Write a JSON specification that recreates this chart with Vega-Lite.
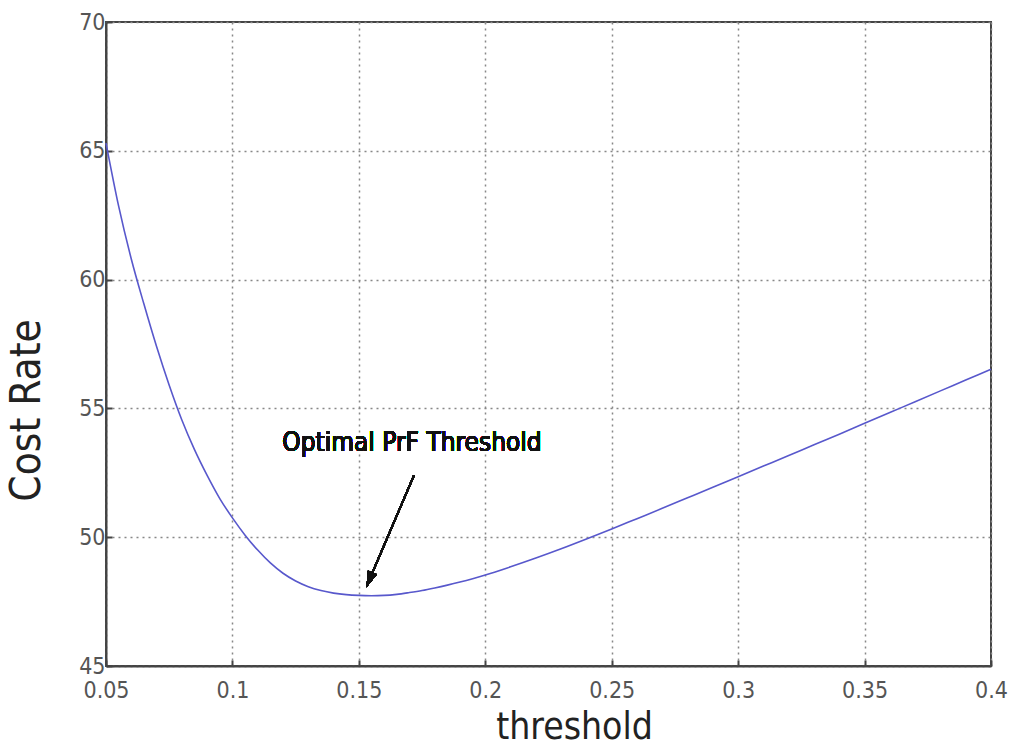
{
  "$schema": "https://vega.github.io/schema/vega-lite/v6.json",
  "width": 885,
  "height": 644,
  "autosize": "none",
  "padding": {"left": 106, "top": 22, "right": 19, "bottom": 89},
  "background": "white",
  "config": {
    "view": {"stroke": "#444", "strokeWidth": 2},
    "font": "DejaVu Sans Condensed, sans-serif",
    "axis": {
      "domainColor": "#444",
      "domainWidth": 2,
      "gridColor": "#888",
      "gridDash": [2, 4],
      "gridWidth": 1.5,
      "tickColor": "#444",
      "tickWidth": 2,
      "labelFont": "DejaVu Sans Condensed, sans-serif",
      "titleFont": "DejaVu Sans Condensed, sans-serif",
      "labelColor": "#555",
      "titleColor": "#222",
      "titleFontWeight": "normal"
    }
  },
  "data": {
    "values": [
      {"threshold": 0.05, "cost": 65.3},
      {"threshold": 0.055, "cost": 62.85},
      {"threshold": 0.06, "cost": 60.8},
      {"threshold": 0.065, "cost": 59.05},
      {"threshold": 0.07, "cost": 57.4},
      {"threshold": 0.075, "cost": 55.9},
      {"threshold": 0.08, "cost": 54.55},
      {"threshold": 0.085, "cost": 53.4},
      {"threshold": 0.09, "cost": 52.4},
      {"threshold": 0.095, "cost": 51.5},
      {"threshold": 0.1, "cost": 50.75},
      {"threshold": 0.105, "cost": 50.08},
      {"threshold": 0.11, "cost": 49.5},
      {"threshold": 0.115, "cost": 49.0},
      {"threshold": 0.12, "cost": 48.6},
      {"threshold": 0.125, "cost": 48.3},
      {"threshold": 0.13, "cost": 48.08},
      {"threshold": 0.135, "cost": 47.93},
      {"threshold": 0.14, "cost": 47.83},
      {"threshold": 0.145, "cost": 47.77},
      {"threshold": 0.15, "cost": 47.74},
      {"threshold": 0.155, "cost": 47.73},
      {"threshold": 0.16, "cost": 47.74},
      {"threshold": 0.165, "cost": 47.78},
      {"threshold": 0.17, "cost": 47.85},
      {"threshold": 0.175, "cost": 47.93},
      {"threshold": 0.18, "cost": 48.03},
      {"threshold": 0.185, "cost": 48.14},
      {"threshold": 0.19, "cost": 48.26},
      {"threshold": 0.195, "cost": 48.39},
      {"threshold": 0.2, "cost": 48.53},
      {"threshold": 0.21, "cost": 48.85},
      {"threshold": 0.22, "cost": 49.19},
      {"threshold": 0.23, "cost": 49.55},
      {"threshold": 0.24, "cost": 49.93},
      {"threshold": 0.25, "cost": 50.32},
      {"threshold": 0.26, "cost": 50.72},
      {"threshold": 0.27, "cost": 51.12},
      {"threshold": 0.28, "cost": 51.53},
      {"threshold": 0.29, "cost": 51.94},
      {"threshold": 0.3, "cost": 52.35},
      {"threshold": 0.31, "cost": 52.76},
      {"threshold": 0.32, "cost": 53.17},
      {"threshold": 0.33, "cost": 53.59},
      {"threshold": 0.34, "cost": 54.0},
      {"threshold": 0.35, "cost": 54.42},
      {"threshold": 0.36, "cost": 54.84},
      {"threshold": 0.37, "cost": 55.26},
      {"threshold": 0.38, "cost": 55.68},
      {"threshold": 0.39, "cost": 56.1},
      {"threshold": 0.4, "cost": 56.52}
    ]
  },
  "layer": [
    {
      "mark": {"type": "line", "color": "#5858cc", "strokeWidth": 1.6, "interpolate": "monotone"},
      "encoding": {
        "x": {
          "field": "threshold", "type": "quantitative",
          "scale": {"domain": [0.05, 0.4], "nice": false, "zero": false},
          "axis": {
            "values": [0.05, 0.1, 0.15, 0.2, 0.25, 0.3, 0.35, 0.4],
            "format": ".2~f",
            "title": "threshold",
            "titleFontSize": 37,
            "titleX": 468,
            "titleY": 61,
            "titleBaseline": "middle",
            "labelFontSize": 23,
            "labelPadding": 19,
            "tickSize": -6,
            "labelFlush": false
          }
        },
        "y": {
          "field": "cost", "type": "quantitative",
          "scale": {"domain": [45, 70], "nice": false, "zero": false},
          "axis": {
            "values": [45, 50, 55, 60, 65, 70],
            "title": "Cost Rate",
            "titleFontSize": 42,
            "titleX": -58,
            "titleY": 388,
            "labelFontSize": 23,
            "labelPadding": 7,
            "tickSize": -6,
            "labelFlush": false
          }
        }
      }
    },
    {
      "mark": {"type": "rule", "color": "#111", "strokeWidth": 1.6},
      "encoding": {
        "x": {"datum": 0.1718, "type": "quantitative"},
        "y": {"datum": 52.4, "type": "quantitative"},
        "x2": {"datum": 0.1535},
        "y2": {"datum": 48.2}
      }
    },
    {
      "mark": {"type": "point", "shape": "M0,0L-0.6,-2L0.6,-2Z", "filled": true, "color": "#111", "opacity": 1, "size": 256, "angle": 22},
      "encoding": {
        "x": {"datum": 0.153, "type": "quantitative"},
        "y": {"datum": 48.06, "type": "quantitative"}
      }
    },
    {
      "mark": {"type": "text", "text": "Optimal PrF Threshold", "fontSize": 26, "color": "#111", "align": "center", "baseline": "middle", "font": "DejaVu Sans Condensed, sans-serif"},
      "encoding": {
        "x": {"datum": 0.171, "type": "quantitative"},
        "y": {"datum": 53.65, "type": "quantitative"}
      }
    }
  ]
}
